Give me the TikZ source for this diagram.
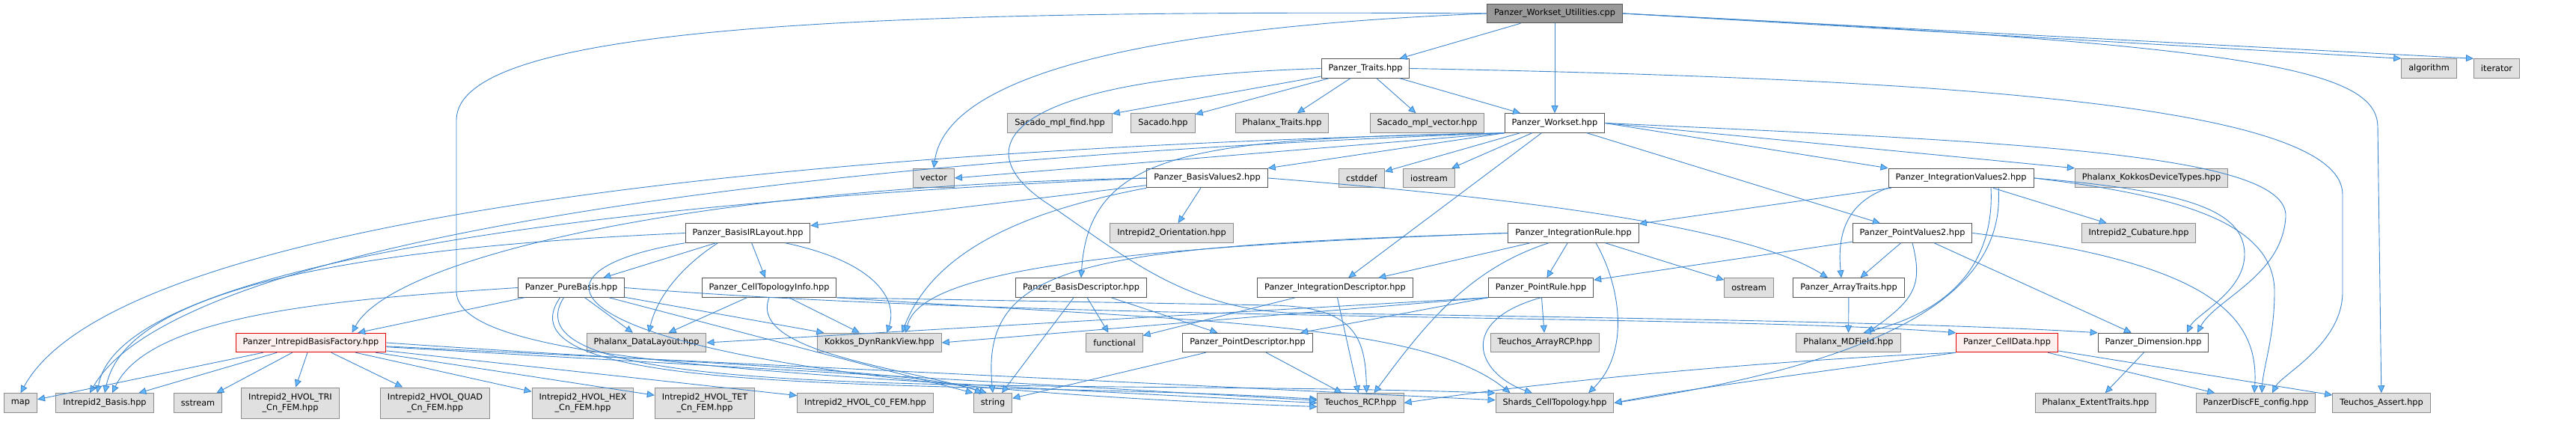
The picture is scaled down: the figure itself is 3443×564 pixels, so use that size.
\documentclass[tikz,border=0pt]{standalone}
\usepackage{fontspec}
\setmainfont{DejaVu Sans}
\usetikzlibrary{arrows.meta}
\definecolor{edgeblue}{HTML}{3F86CC}
\definecolor{tipblue}{HTML}{63B8FF}
\definecolor{boxline}{HTML}{555555}
\definecolor{extline}{HTML}{8C8C8C}
\definecolor{extfill}{HTML}{E0E0E0}
\definecolor{rootfill}{HTML}{999999}
\definecolor{redfill}{HTML}{FFF0F0}
\tikzset{%
  incTip/.tip={Triangle[length=10pt,width=9pt,fill=tipblue]},
  filebox/.style={draw=boxline, fill=white, line width=1pt, inner xsep=9.5pt, inner ysep=2pt,
    minimum height=25.5pt, font=\fontsize{11.3pt}{14pt}\selectfont},
  extbox/.style={filebox, draw=extline, fill=extfill},
  extboxtwo/.style={extbox, align=center, minimum height=41pt},
  rootbox/.style={filebox, fill=rootfill},
  redbox/.style={filebox, draw=red!90!black, fill=redfill},
  incl/.style={draw=edgeblue, line width=0.9pt, -incTip}
}

\begin{document}
\begin{tikzpicture}[x=1pt,y=-1pt]
\useasboundingbox (0,0) rectangle (3443,564);
% rows of include files
\node[rootbox] (util) at (2078,18) {Panzer\_Workset\_Utilities.cpp};
\node[filebox] (traits) at (1825,91.5) {Panzer\_Traits.hpp};
\node[extbox] (algorithm) at (3246.5,91.5) {algorithm};
\node[extbox] (iterator) at (3337,91.5) {iterator};
\node[extbox] (smfind) at (1416.5,164.5) {Sacado\_mpl\_find.hpp};
\node[extbox] (sacado) at (1554.5,164.5) {Sacado.hpp};
\node[extbox] (phtraits) at (1713.5,164.5) {Phalanx\_Traits.hpp};
\node[extbox] (smvec) at (1907.5,164.5) {Sacado\_mpl\_vector.hpp};
\node[filebox] (workset) at (2078,164.5) {Panzer\_Workset.hpp};
\node[extbox] (vector) at (1248,238) {vector};
\node[filebox] (bv2) at (1613.5,238) {Panzer\_BasisValues2.hpp};
\node[extbox] (cstddef) at (1820,238) {cstddef};
\node[extbox] (iostream) at (1910,238) {iostream};
\node[filebox] (iv2) at (2621,238) {Panzer\_IntegrationValues2.hpp};
\node[extbox] (kokkosdt) at (2875.5,238) {Phalanx\_KokkosDeviceTypes.hpp};
\node[filebox] (bir) at (999.5,311.5) {Panzer\_BasisIRLayout.hpp};
\node[extbox] (orient) at (1566,311.5) {Intrepid2\_Orientation.hpp};
\node[filebox] (ir) at (2103,311.5) {Panzer\_IntegrationRule.hpp};
\node[filebox] (pv2) at (2556,311.5) {Panzer\_PointValues2.hpp};
\node[extbox] (cubature) at (2858.5,311.5) {Intrepid2\_Cubature.hpp};
\node[filebox] (purebasis) at (763.5,384.5) {Panzer\_PureBasis.hpp};
\node[filebox] (cti) at (1028,384.5) {Panzer\_CellTopologyInfo.hpp};
\node[filebox] (bdesc) at (1445,384.5) {Panzer\_BasisDescriptor.hpp};
\node[filebox] (idesc) at (1784.5,384.5) {Panzer\_IntegrationDescriptor.hpp};
\node[filebox] (prule) at (2059.5,384.5) {Panzer\_PointRule.hpp};
\node[extbox] (ostream) at (2337.5,384.5) {ostream};
\node[filebox] (arraytr) at (2471,384.5) {Panzer\_ArrayTraits.hpp};
\node[redbox] (ibf) at (415.5,458) {Panzer\_IntrepidBasisFactory.hpp};
\node[extbox] (datalayout) at (864,458) {Phalanx\_DataLayout.hpp};
\node[extbox] (kdrv) at (1175.5,458) {Kokkos\_DynRankView.hpp};
\node[extbox] (functional) at (1489.5,458) {functional};
\node[filebox] (pdesc) at (1667.5,458) {Panzer\_PointDescriptor.hpp};
\node[extbox] (arcp) at (2065,458) {Teuchos\_ArrayRCP.hpp};
\node[extbox] (mdfield) at (2470.5,458) {Phalanx\_MDField.hpp};
\node[redbox] (celldata) at (2682.5,458) {Panzer\_CellData.hpp};
\node[filebox] (dim) at (2878,458) {Panzer\_Dimension.hpp};
\node[extbox] (map) at (27.5,538.5) {map};
\node[extbox] (ibasis) at (140,538.5) {Intrepid2\_Basis.hpp};
\node[extbox] (sstream) at (264.5,538.5) {sstream};
\node[extboxtwo] (tri) at (388,538.5) {Intrepid2\_HVOL\_TRI\\\_Cn\_FEM.hpp};
\node[extboxtwo] (quad) at (581.5,538.5) {Intrepid2\_HVOL\_QUAD\\\_Cn\_FEM.hpp};
\node[extboxtwo] (hex) at (779,538.5) {Intrepid2\_HVOL\_HEX\\\_Cn\_FEM.hpp};
\node[extboxtwo] (tet) at (942,538.5) {Intrepid2\_HVOL\_TET\\\_Cn\_FEM.hpp};
\node[extbox] (c0) at (1156.5,538.5) {Intrepid2\_HVOL\_C0\_FEM.hpp};
\node[extbox] (string) at (1327,538.5) {string};
\node[extbox] (trcp) at (1818.5,538.5) {Teuchos\_RCP.hpp};
\node[extbox] (shards) at (2078,538.5) {Shards\_CellTopology.hpp};
\node[extbox] (extent) at (2801,538.5) {Phalanx\_ExtentTraits.hpp};
\node[extbox] (discfe) at (3015,538.5) {PanzerDiscFE\_config.hpp};
\node[extbox] (tassert) at (3183,538.5) {Teuchos\_Assert.hpp};

% Panzer_Workset_Utilities.cpp
\draw[incl] (util) -- (traits);
\draw[incl] (util) -- (workset);
\draw[incl] (util.east) -- (algorithm.north west);
\draw[incl] (util.east) -- (iterator.north west);
\draw[incl] (util.east) .. controls (3000,60) and (3178,90) .. (3178,170) -- (tassert);
\draw[incl] (util.west) .. controls (1450,40) and (1262,120) .. (vector.north);
\draw[incl] (util.west) .. controls (1100,12) and (612,40) .. (610,160) -- (610,390)
  .. controls (612,480) and (1000,500) .. (trcp.west);
% Panzer_Traits.hpp
\draw[incl] (traits) -- (smfind);
\draw[incl] (traits) -- (sacado);
\draw[incl] (traits) -- (phtraits);
\draw[incl] (traits) -- (smvec);
\draw[incl] (traits) -- (workset);
\draw[incl] (traits.east) .. controls (2600,105) and (3131,140) .. (3131,260) -- (3131,390)
  .. controls (3131,460) and (3050,500) .. ([xshift=22pt]discfe.north);
\draw[incl] (traits.west) .. controls (1330,105) and (1290,200) .. (1400,272)
  .. controls (1500,340) and (1580,410) .. (1720,418)
  .. controls (2200,425) and (2600,432) .. (dim.north west);
% Panzer_Workset.hpp
\draw[incl] (workset.south west) .. controls (1000,200) and (150,300) .. (map.north);
\draw[incl] (workset.south west) .. controls (1000,215) and (230,330) .. ([xshift=-20pt]ibasis.north);
\draw[incl] (workset.south west) -- (vector.east);
\draw[incl] (workset.south west) -- (bv2.north east);
\draw[incl] (workset) -- (cstddef);
\draw[incl] (workset) -- (iostream);
\draw[incl] (workset.east) -- (iv2.north west);
\draw[incl] (workset.east) -- (kokkosdt.north west);
\draw[incl] (workset) -- (pv2);
\draw[incl] (workset) -- (idesc);
\draw[incl] (workset.south west) .. controls (1600,185) and (1455,200) .. (bdesc.north);
\draw[incl] (workset.east) .. controls (2700,190) and (3060,205) .. (3055,290)
  .. controls (3050,370) and (2960,400) .. ([xshift=59pt]dim.north);
% Panzer_BasisValues2.hpp
\draw[incl] (bv2) -- (orient);
\draw[incl] (bv2) -- (bir);
\draw[incl] (bv2.west) .. controls (900,250) and (520,350) .. ([xshift=55pt]ibf.north);
\draw[incl] (bv2.south west) .. controls (1380,280) and (1250,330) .. ([xshift=30pt]kdrv.north);
\draw[incl] (bv2.west) .. controls (900,265) and (160,340) .. ([xshift=-10pt]ibasis.north);
\draw[incl] (bv2.east) .. controls (2000,262) and (2330,300) .. ([xshift=-28pt]arraytr.north);
% Panzer_BasisIRLayout.hpp
\draw[incl] (bir) -- (purebasis);
\draw[incl] (bir) -- (cti);
\draw[incl] ([xshift=-40pt]bir.south) .. controls (920,350) and (880,390) .. ([xshift=3pt]datalayout.north);
\draw[incl] ([xshift=50pt]bir.south) .. controls (1170,350) and (1200,400) .. ([xshift=10pt]kdrv.north);
\draw[incl] (bir.west) .. controls (500,330) and (170,380) .. (ibasis.north);
\draw[incl] (bir.south west) .. controls (640,370) and (760,510) .. ([yshift=-5pt]trcp.west);
% Panzer_PureBasis.hpp
\draw[incl] (purebasis) -- (ibf);
\draw[incl] (purebasis) -- (datalayout);
\draw[incl] (purebasis) -- (kdrv);
\draw[incl] (purebasis.west) .. controls (450,400) and (200,420) .. ([xshift=10pt]ibasis.north);
\draw[incl] (purebasis) -- (string.north west);
\draw[incl] ([xshift=-15pt]purebasis.south) .. controls (650,540) and (1300,505) .. ([yshift=5pt]trcp.west);
\draw[incl] ([xshift=-10pt]purebasis.south) .. controls (660,545) and (1400,505) .. (shards.north west);
\draw[incl] (purebasis.east) .. controls (1400,430) and (2300,420) .. (celldata.north west);
% Panzer_CellTopologyInfo.hpp
\draw[incl] (cti) -- (datalayout);
\draw[incl] (cti) -- (kdrv);
\draw[incl] (cti.south east) -- (1700,408) .. controls (1810,410) and (1825,450) .. ([xshift=8pt]trcp.north);
\draw[incl] (cti.south east) .. controls (1600,430) and (1900,430) .. ([xshift=20pt]shards.north west);
\draw[incl] (cti.south) .. controls (1000,470) and (1200,490) .. ([xshift=-8pt]string.north);
% Panzer_IntrepidBasisFactory.hpp
\draw[incl] (ibf) -- (map);
\draw[incl] (ibf) -- (ibasis);
\draw[incl] (ibf) -- (sstream);
\draw[incl] (ibf) -- (tri);
\draw[incl] (ibf) -- (quad);
\draw[incl] (ibf) -- (hex);
\draw[incl] (ibf) -- (tet);
\draw[incl] (ibf) -- (c0);
\draw[incl] (ibf.east) .. controls (900,485) and (1240,495) .. ([xshift=-14pt]string.north);
\draw[incl] (ibf) -- (trcp);
\draw[incl] (ibf) -- (shards);
% descriptors
\draw[incl] (bdesc) -- ([xshift=12pt]string.north);
\draw[incl] (bdesc) -- (functional);
\draw[incl] (bdesc) -- (pdesc);
\draw[incl] (idesc) -- (functional);
\draw[incl] (idesc) -- (trcp);
\draw[incl] (pdesc) -- (string);
\draw[incl] (pdesc) -- (trcp);
% Panzer_IntegrationRule.hpp
\draw[incl] (ir) -- (idesc);
\draw[incl] (ir) -- (prule);
\draw[incl] (ir) -- (ostream);
\draw[incl] ([xshift=-33pt]ir.south) .. controls (1960,360) and (1900,440) .. ([xshift=18pt]trcp.north);
\draw[incl] ([xshift=30pt]ir.south) .. controls (2165,380) and (2180,470) .. ([xshift=45pt]shards.north);
\draw[incl] (ir.west) .. controls (1500,330) and (1230,360) .. ([xshift=35pt]kdrv.north);
\draw[incl] (ir.west) .. controls (1450,330) and (1310,350) .. (string.north);
% Panzer_PointRule.hpp
\draw[incl] (prule) -- (arcp);
\draw[incl] (prule) -- (pdesc);
\draw[incl] (prule.south west) -- (datalayout.east);
\draw[incl] (prule.south west) -- (kdrv.east);
\draw[incl] (prule.south) .. controls (1945,430) and (1975,500) .. ([xshift=-30pt]shards.north);
% Panzer_PointValues2.hpp
\draw[incl] (pv2) -- (arraytr);
\draw[incl] (pv2) -- (prule);
\draw[incl] (pv2) -- (dim);
\draw[incl] (pv2.south) .. controls (2570,380) and (2560,400) .. ([xshift=25pt]mdfield.north);
\draw[incl] (pv2.east) .. controls (2950,350) and (3020,420) .. ([xshift=-2pt]discfe.north);
% Panzer_IntegrationValues2.hpp
\draw[incl] (iv2) -- (ir);
\draw[incl] (iv2) -- (cubature);
\draw[incl] (iv2.south west) .. controls (2470,270) and (2455,310) .. ([xshift=-10pt]arraytr.north);
\draw[incl] ([xshift=40pt]iv2.south) .. controls (2665,330) and (2630,410) .. ([xshift=20pt]mdfield.north);
\draw[incl] ([xshift=50pt]iv2.south) .. controls (2680,380) and (2550,480) .. (shards.east);
\draw[incl] (iv2.east) .. controls (2920,255) and (3000,280) .. (3000,340)
  .. controls (3000,390) and (2935,420) .. ([xshift=45pt]dim.north);
\draw[incl] (iv2.east) .. controls (2920,262) and (3040,300) .. (3040,390)
  .. controls (3040,450) and (3025,490) .. ([xshift=8pt]discfe.north);
% the rest
\draw[incl] (arraytr) -- (mdfield);
\draw[incl] (celldata.south west) .. controls (2400,480) and (2100,505) .. (trcp.east);
\draw[incl] (celldata.south west) .. controls (2450,495) and (2250,520) .. (shards.east);
\draw[incl] (celldata) -- (tassert);
\draw[incl] (celldata) -- (discfe);
\draw[incl] (dim) -- (extent);
\end{tikzpicture}
\end{document}
